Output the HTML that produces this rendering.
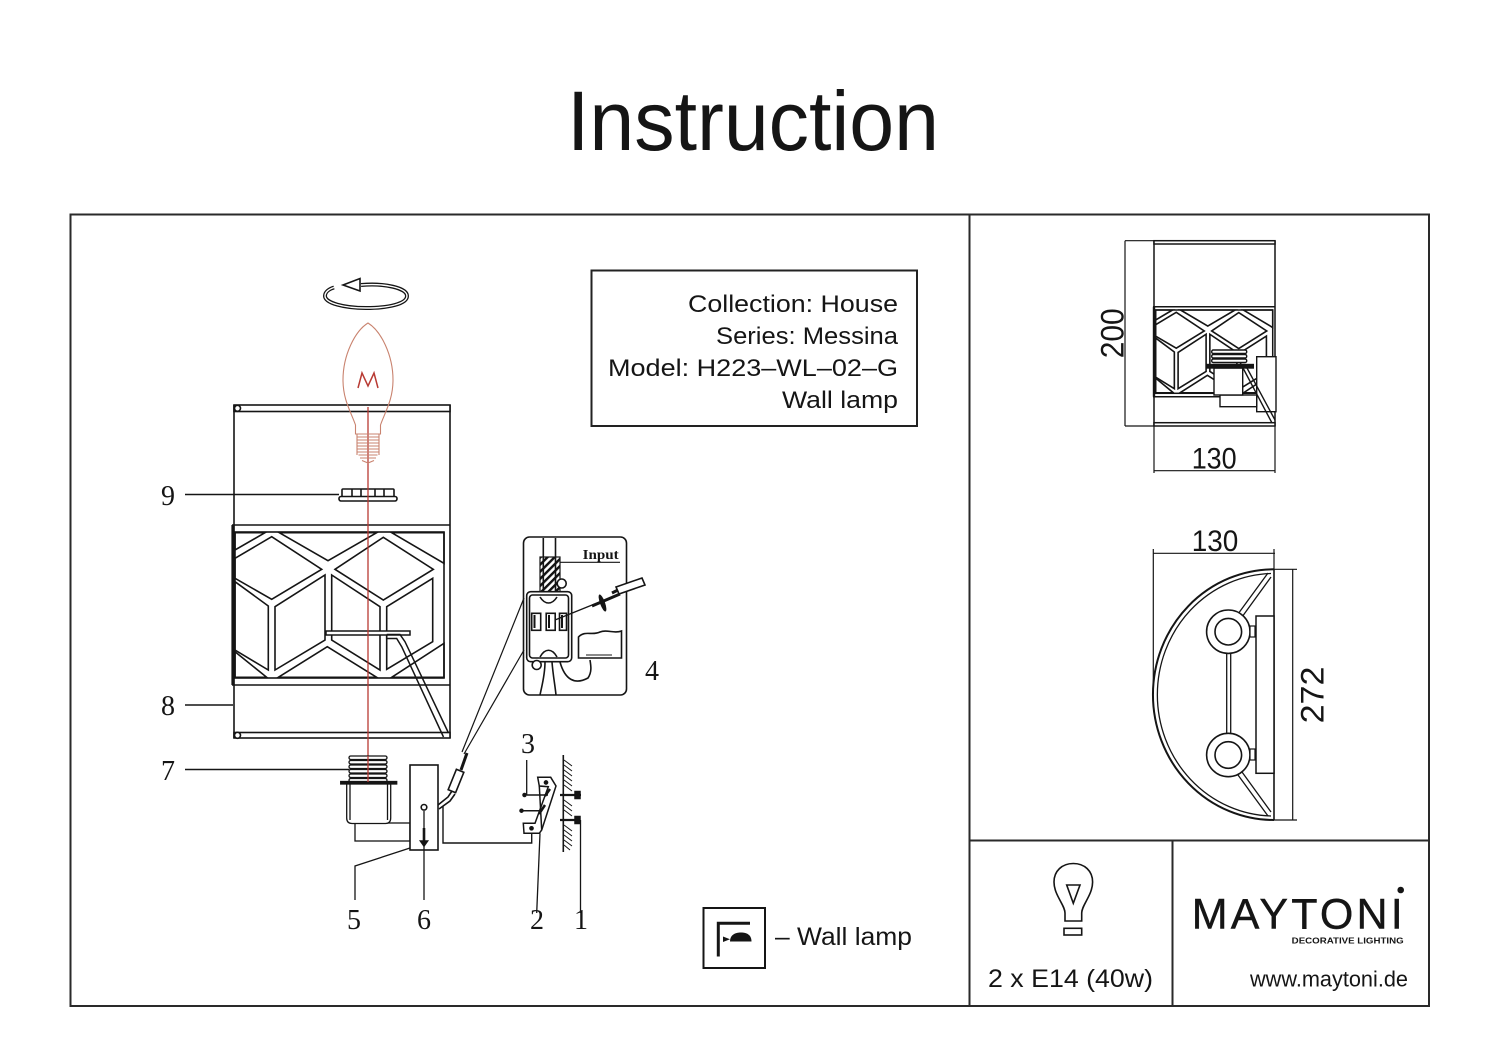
<!DOCTYPE html>
<html>
<head>
<meta charset="utf-8">
<style>
html,body{margin:0;padding:0;background:#fff;}
svg{display:block;}
.s{font-family:"Liberation Sans",Arial,sans-serif;fill:#151515;}
.r{font-family:"Liberation Serif","Times New Roman",serif;fill:#151515;}
</style>
</head>
<body>
<svg width="1500" height="1061" viewBox="0 0 1500 1061" xmlns="http://www.w3.org/2000/svg">
<defs>
  <pattern id="hatch" width="5" height="5" patternUnits="userSpaceOnUse" patternTransform="rotate(45)">
    <rect width="2.4" height="5" fill="#111"/>
  </pattern>
  <g id="hex" fill="none" stroke="#151515" stroke-width="1.6">
    <polygon points="0,0 30,0 0,17.3" vector-effect="non-scaling-stroke"/>
    <polygon points="44.3,0 141.7,0 93,28" vector-effect="non-scaling-stroke"/>
    <polygon points="156.7,0 209,0 209,30.6" vector-effect="non-scaling-stroke"/>
    <polygon points="0,25.6 36.7,4 86.7,36.6 36.7,66.6 0,45.6" vector-effect="non-scaling-stroke"/>
    <polygon points="100,36.6 148.3,4.6 198.3,36.6 148.3,67.3" vector-effect="non-scaling-stroke"/>
    <polygon points="0,49 33.3,73.3 33.3,137.3 0,117.3" vector-effect="non-scaling-stroke"/>
    <polygon points="40,74 90,42.3 90,107.3 40,137.3" vector-effect="non-scaling-stroke"/>
    <polygon points="96.7,42.3 145,74 145,137.3 96.7,107.3" vector-effect="non-scaling-stroke"/>
    <polygon points="151.7,74 197.7,45.6 197.7,109 151.7,136.6" vector-effect="non-scaling-stroke"/>
    <polygon points="43.3,144.6 92.3,114 141.7,144.6" vector-effect="non-scaling-stroke"/>
    <polygon points="156.7,144.6 209,110.6 209,144.6" vector-effect="non-scaling-stroke"/>
    <polygon points="0,119 31.7,144.6 0,144.6" vector-effect="non-scaling-stroke"/>
  </g>
</defs>

<!-- Title -->
<text class="s" x="567" y="150" font-size="84" textLength="372" lengthAdjust="spacingAndGlyphs">Instruction</text>

<!-- Frame -->
<g stroke="#2a2a2a" stroke-width="2" fill="none">
  <rect x="70.5" y="214.5" width="1358.5" height="791.5"/>
  <line x1="969.5" y1="215" x2="969.5" y2="1006"/>
  <line x1="969" y1="840.5" x2="1429" y2="840.5"/>
  <line x1="1172.5" y1="840" x2="1172.5" y2="1006"/>
</g>

<!-- Info box -->
<rect x="591.5" y="270.5" width="325.5" height="155.5" fill="none" stroke="#222" stroke-width="2"/>
<g class="s" font-size="24" text-anchor="end">
  <text x="898" y="312" textLength="210" lengthAdjust="spacingAndGlyphs">Collection: House</text>
  <text x="898" y="344" textLength="182" lengthAdjust="spacingAndGlyphs">Series: Messina</text>
  <text x="898" y="376" textLength="290" lengthAdjust="spacingAndGlyphs">Model: H223–WL–02–G</text>
  <text x="898" y="408" textLength="116" lengthAdjust="spacingAndGlyphs">Wall lamp</text>
</g>

<!-- Rotation arrow -->
<g fill="none">
  <path d="M361,285 C385,283 407,288 407,296 C407,304 388,308 366,308 C344,308 325,303 325,296 C325,292 329,289 334,287.5" stroke="#151515" stroke-width="4"/>
  <path d="M361,285 C385,283 407,288 407,296 C407,304 388,308 366,308 C344,308 325,303 325,296 C325,292 329,289 334,287.5" stroke="#fff" stroke-width="1.4"/>
  <polygon points="343,285 360,278.5 360,291" fill="#fff" stroke="#151515" stroke-width="1.6"/>
</g>

<!-- Lamp shade (front view) -->
<g stroke="#151515" fill="none" stroke-width="1.6">
  <line x1="234" y1="405" x2="234" y2="738"/>
  <line x1="450" y1="405" x2="450" y2="738"/>
  <rect x="234" y="405" width="216" height="6.5" fill="#fff"/>
  <circle cx="237.5" cy="408.3" r="3" fill="#fff"/>
  <line x1="232" y1="525" x2="450" y2="525"/>
  <line x1="232" y1="685" x2="450" y2="685"/>
  <line x1="233" y1="525" x2="233" y2="685" stroke-width="3.2"/>
  <rect x="235" y="532" width="209" height="146"/>
  <rect x="234" y="732.5" width="216" height="5.5" fill="#fff"/>
  <circle cx="237.5" cy="735.3" r="3" fill="#fff"/>
</g>
<use href="#hex" transform="translate(235,532.7)"/>
<!-- rod & arm -->
<g stroke="#151515" fill="#fff" stroke-width="1.5">
  <rect x="326" y="631" width="84" height="4"/>
  <path d="M386.7,634.5 L400,634.5 L405,641.7 L448.5,733" fill="none"/>
  <path d="M386.7,634.5 L386.7,638.5 L396.7,638.5 L401.7,646.7 L443.5,737" fill="none"/>
</g>

<!-- Ring 9 -->
<g stroke="#151515" stroke-width="1.6" fill="#fff">
  <rect x="342" y="489" width="52" height="8" rx="1"/>
  <rect x="339" y="496.5" width="58" height="4.5" rx="2"/>
  <line x1="352" y1="489" x2="352" y2="497"/>
  <line x1="361" y1="489" x2="361" y2="497"/>
  <line x1="375" y1="489" x2="375" y2="497"/>
  <line x1="384" y1="489" x2="384" y2="497"/>
</g>

<!-- Red axis and bulb -->
<line x1="368" y1="407" x2="368" y2="782" stroke="#b83a33" stroke-width="1.3"/>
<g fill="none" stroke="#c9836f" stroke-width="1.1">
  <path d="M368,323 C381,331 393,355 393,380 C393,400 385,412 380.5,425 L380.5,434 L355.5,434 L355.5,425 C351,412 343,400 343,380 C343,355 355,331 368,323 Z"/>
  <path d="M357,437 H379 M357,440 H379 M357,443 H379 M357,446 H379 M357,449 H379 M357.5,452 H378.5 M358.5,455 H377.5 M360,458 H376 M362,460.5 L368,463 L374,460.5"/>
  <line x1="357" y1="434" x2="357" y2="455"/>
  <line x1="379" y1="434" x2="379" y2="455"/>
</g>
<polyline points="358,388 362,373 368,386 374,373 378,388" fill="none" stroke="#b83a33" stroke-width="1.5"/>

<!-- Leader lines left -->
<g stroke="#151515" stroke-width="1.4">
  <line x1="185" y1="494.5" x2="339" y2="494.5"/>
  <line x1="185" y1="705" x2="233" y2="705"/>
  <line x1="185" y1="769.5" x2="349" y2="769.5"/>
</g>
<g class="r" font-size="28" text-anchor="middle">
  <text x="168" y="505">9</text>
  <text x="168" y="715">8</text>
  <text x="168" y="780">7</text>
  <text x="652" y="680">4</text>
  <text x="528" y="753">3</text>
  <text x="354" y="929">5</text>
  <text x="424" y="929">6</text>
  <text x="537" y="929">2</text>
  <text x="581" y="929">1</text>
</g>

<!-- Socket 7 -->
<g stroke="#151515" stroke-width="1.3" fill="#fff">
  <rect x="349" y="756" width="38" height="3.5" rx="1.7"/>
  <rect x="349" y="760.5" width="38" height="3.5" rx="1.7"/>
  <rect x="349" y="765" width="38" height="3.5" rx="1.7"/>
  <rect x="349" y="769.5" width="38" height="3.5" rx="1.7"/>
  <rect x="349" y="774" width="38" height="3.5" rx="1.7"/>
  <rect x="349" y="778.5" width="38" height="3.5" rx="1.7"/>
  <rect x="355" y="823" width="55" height="18"/>
  <path d="M346.7,783 V818 Q346.7,823.5 352,823.5 H385.5 Q390.7,823.5 390.7,818 V783 Z"/>
  <line x1="350" y1="784" x2="350" y2="820" fill="none"/>
  <line x1="387.5" y1="784" x2="387.5" y2="820" fill="none"/>
  <rect x="340.7" y="781.5" width="56" height="2.5" fill="#151515"/>
</g>
<line x1="368" y1="756" x2="368" y2="782" stroke="#b83a33" stroke-width="1.3"/>

<!-- Bracket plate 5/6 -->
<g stroke="#151515" stroke-width="1.6" fill="#fff">
  <rect x="410" y="765" width="28" height="85"/>
  <circle cx="424" cy="807.3" r="2.8"/>
  <line x1="424" y1="811" x2="424" y2="900" fill="none" stroke-width="1.3"/>
  <path d="M420.5,841 L427.5,841 L424,846 Z" fill="#151515"/>
  <rect x="422.7" y="828" width="2.6" height="14" fill="#151515" stroke="none"/>
  <polyline points="410,848 355,866 355,900" fill="none" stroke-width="1.3"/>
  <polyline points="443,806 443,843 531.7,843 531.7,833" fill="none" stroke-width="1.4"/>
  <!-- connector -->
  <path d="M438,805 L448,797 L452,791" fill="none"/>
  <path d="M439,809 L450,801 L455,794" fill="none"/>
  <rect x="452" y="770" width="8" height="22" transform="rotate(22 456 781)"/>
  <line x1="461" y1="770" x2="467" y2="753" stroke-width="3"/>
  <line x1="462" y1="752" x2="524" y2="598" fill="none" stroke-width="1.2"/>
  <line x1="464" y1="754" x2="524" y2="650" fill="none" stroke-width="1.2"/>
</g>

<!-- Mount bracket 2, screws 3, wall, screws 1 -->
<g stroke="#151515" stroke-width="1.5" fill="#fff">
  <path d="M537.7,777.3 L550.7,777.3 L556,786 L541.7,830 L539.3,833.3 L524,833.3 L523.3,823.3 L535,823.3 L548.3,786.7 L539.3,786 Z"/>
  <line x1="539.3" y1="786" x2="541.7" y2="830" fill="none"/>
  <line x1="545" y1="796" x2="550" y2="789" fill="none" stroke-width="2.5"/>
  <line x1="539" y1="814" x2="545" y2="805" fill="none" stroke-width="2.5"/>
  <circle cx="546" cy="782.5" r="1.6" fill="#151515"/>
  <circle cx="531.5" cy="828.3" r="1.6" fill="#151515"/>
  <line x1="526.7" y1="795" x2="548" y2="795" fill="none"/>
  <line x1="522.7" y1="810.7" x2="540" y2="810.7" fill="none"/>
  <circle cx="524.5" cy="795" r="1.5" fill="#151515"/>
  <circle cx="521.5" cy="810.7" r="1.5" fill="#151515"/>
  <line x1="526.7" y1="760" x2="526.7" y2="795" fill="none" stroke-width="1.3"/>
  <line x1="540" y1="833.3" x2="536.7" y2="913" fill="none" stroke-width="1.3"/>
  <line x1="563.3" y1="755" x2="563.3" y2="852" fill="none" stroke-width="1.6"/>
  <line x1="580.5" y1="820" x2="580.5" y2="913" fill="none" stroke-width="1.3"/>
  <line x1="560" y1="795" x2="581" y2="795" fill="none" stroke-width="2.2"/>
  <line x1="560" y1="820" x2="580" y2="820" fill="none" stroke-width="2.2"/>
  <rect x="575" y="791.5" width="5" height="7" fill="#151515"/>
  <rect x="575" y="816.5" width="5" height="7" fill="#151515"/>
</g>
<g stroke="#151515" stroke-width="1">
  <path d="M564,760 l8,6 M564,765 l8,6 M564,770 l8,6 M564,775 l8,6 M564,780 l8,6 M564,785 l8,6 M564,800 l8,6 M564,805 l8,6 M564,810 l8,6 M564,825 l8,6 M564,830 l8,6 M564,835 l8,6 M564,840 l8,6 M564,845 l6,5"/>
</g>

<!-- Wiring box 4 -->
<g stroke="#151515" stroke-width="1.6" fill="none">
  <rect x="523.5" y="537" width="103" height="158" rx="6"/>
  <line x1="543.3" y1="538" x2="543.3" y2="592"/>
  <line x1="555.5" y1="538" x2="555.5" y2="592"/>
  <rect x="540" y="557" width="20" height="35" fill="url(#hatch)" stroke-width="1.2"/>
  <line x1="560" y1="562.3" x2="620" y2="562.3" stroke-width="1.2"/>
  <rect x="526.7" y="591.7" width="45" height="70" rx="4" fill="#fff"/>
  <rect x="529.5" y="595" width="39" height="63" rx="3"/>
  <circle cx="561.7" cy="583.5" r="4.5" fill="#fff"/>
  <circle cx="536.7" cy="665" r="4.5" fill="#fff"/>
  <rect x="531.7" y="613.3" width="9" height="17" fill="#fff"/>
  <rect x="546.2" y="613.3" width="9" height="17" fill="#fff"/>
  <rect x="559.5" y="613.3" width="7" height="17" fill="#fff"/>
  <line x1="534.5" y1="615" x2="534.5" y2="628" stroke-width="2"/>
  <line x1="549" y1="615" x2="549" y2="628" stroke-width="2"/>
  <line x1="562" y1="615" x2="562" y2="628" stroke-width="2"/>
  <path d="M540,597 C545,605 552,605 557,597 M540,657 C545,648 552,648 557,657"/>
  <path d="M545,662 C545,675 542,685 540,695 M552,662 C553,675 555,685 556,695 M560,662 C565,680 575,685 588,678 C592,672 591,666 590,660"/>
  <line x1="555" y1="620" x2="602" y2="601" stroke-width="1.3"/>
  <line x1="592" y1="606" x2="620" y2="594" stroke-width="3"/>
  <path d="M616,587 L642,578 L645,585 L619,594 Z" fill="#fff"/>
  <path d="M618,590 L612,593" stroke-width="3"/>
  <ellipse cx="602.5" cy="603" rx="2.5" ry="9" transform="rotate(-20 602.5 603)" fill="#151515" stroke="none"/>
  <path d="M578.5,637 C585,630 592,636 600,632 C607,629 614,634 621.5,631 L621.5,658 L578.5,658 Z" fill="#fff"/>
  <line x1="586" y1="655" x2="612" y2="655" stroke-width="1"/>
</g>
<text class="r" x="582.7" y="559" font-size="14" font-weight="bold" textLength="36" lengthAdjust="spacingAndGlyphs">Input</text>

<!-- Wall lamp legend -->
<rect x="703.5" y="908" width="61.5" height="60" fill="none" stroke="#151515" stroke-width="2"/>
<path d="M718.3,956.5 V923.3 H750" fill="none" stroke="#151515" stroke-width="3"/>
<path d="M730,941.5 C730,935 735,932.5 741,932.5 C747,932.5 751.5,935 751.5,941.5 Z" fill="#151515"/>
<path d="M723,936.5 L723,942 L730,939.2 Z M730,939.2" fill="#151515"/>
<text class="s" x="775" y="945" font-size="25" textLength="137" lengthAdjust="spacingAndGlyphs">– Wall lamp</text>

<!-- Right panel: side view -->
<g stroke="#151515" stroke-width="1.5" fill="none">
  <line x1="1154" y1="240.7" x2="1154" y2="426"/>
  <line x1="1275" y1="240.7" x2="1275" y2="426"/>
  <rect x="1154" y="240.7" width="121" height="3.3" fill="#fff"/>
  <rect x="1154" y="422.7" width="121" height="3.3" fill="#fff"/>
  <line x1="1153" y1="306.7" x2="1275" y2="306.7"/>
  <line x1="1153" y1="396.7" x2="1275" y2="396.7"/>
  <line x1="1154" y1="306.7" x2="1154" y2="396.7" stroke-width="2.4"/>
  <rect x="1155.7" y="310" width="117" height="83.3"/>
  <!-- dims -->
  <line x1="1125" y1="240.7" x2="1154" y2="240.7" stroke-width="1.2"/>
  <line x1="1125" y1="426" x2="1154" y2="426" stroke-width="1.2"/>
  <line x1="1125" y1="240.7" x2="1125" y2="426" stroke-width="1.2"/>
  <line x1="1154" y1="426" x2="1154" y2="473" stroke-width="1.2"/>
  <line x1="1275" y1="426" x2="1275" y2="473" stroke-width="1.2"/>
  <line x1="1154" y1="470.7" x2="1275" y2="470.7" stroke-width="1.2"/>
</g>
<use href="#hex" transform="translate(1155.7,310) scale(0.56,0.573)"/>
<g stroke="#151515" stroke-width="1.4" fill="#fff">
  <rect x="1256.7" y="356.7" width="19.3" height="55"/>
  <rect x="1220" y="395" width="36.7" height="11.7"/>
  <rect x="1214" y="368" width="28.7" height="27"/>
  <rect x="1211.7" y="350" width="35" height="3.5" rx="1.5"/>
  <rect x="1211.7" y="354.5" width="35" height="3.5" rx="1.5"/>
  <rect x="1211.7" y="359" width="35" height="3.5" rx="1.5"/>
  <rect x="1206.7" y="364.5" width="46.6" height="3.5" fill="#151515"/>
  <path d="M1243,368 L1272,423 M1247,368 L1275,420" fill="none"/>
</g>
<g class="s" font-size="32">
  <text transform="translate(1123.3,333.3) rotate(-90)" text-anchor="middle" textLength="50" lengthAdjust="spacingAndGlyphs">200</text>
</g>
<text class="s" x="1191.7" y="468.3" font-size="30" textLength="45" lengthAdjust="spacingAndGlyphs">130</text>

<!-- Right panel: top view -->
<text class="s" x="1191.7" y="551" font-size="30" textLength="46.6" lengthAdjust="spacingAndGlyphs">130</text>
<g stroke="#151515" fill="none">
  <line x1="1153.3" y1="553.3" x2="1275" y2="553.3" stroke-width="1.2"/>
  <line x1="1153.3" y1="549" x2="1153.3" y2="694" stroke-width="1.2"/>
  <line x1="1274" y1="549" x2="1274" y2="569" stroke-width="1.2"/>
  <line x1="1274" y1="569.3" x2="1297" y2="569.3" stroke-width="1.2"/>
  <line x1="1274" y1="820" x2="1297" y2="820" stroke-width="1.2"/>
  <line x1="1292.7" y1="569.3" x2="1292.7" y2="820" stroke-width="1.2"/>
  <path d="M1274,569.3 A121,125.3 0 0 0 1274,820" stroke-width="2"/>
  <path d="M1271,573.5 A117,121.3 0 0 0 1271,816" stroke-width="1.3"/>
  <line x1="1274" y1="569.3" x2="1274" y2="820" stroke-width="1.6"/>
  <rect x="1256" y="616" width="18" height="157.3" stroke-width="1.5" fill="#fff"/>
  <path d="M1238,614 L1268,573 M1242,617 L1271,577" stroke-width="1.3"/>
  <path d="M1238,775 L1268,816 M1242,772 L1271,812" stroke-width="1.3"/>
  <rect x="1226.7" y="651.7" width="4" height="86.6" stroke-width="1.3" fill="#fff"/>
  <circle cx="1228.3" cy="631.7" r="21.7" stroke-width="1.6" fill="#fff"/>
  <circle cx="1228.3" cy="631.7" r="13.3" stroke-width="1.6"/>
  <circle cx="1228.3" cy="755" r="21.7" stroke-width="1.6" fill="#fff"/>
  <circle cx="1228.3" cy="755" r="13.3" stroke-width="1.6"/>
  <rect x="1250" y="626" width="5" height="11" stroke-width="1.2" fill="#fff"/>
  <rect x="1250" y="749" width="5" height="11" stroke-width="1.2" fill="#fff"/>
</g>
<text class="s" transform="translate(1323.3,695) rotate(-90)" font-size="32" text-anchor="middle" textLength="56.7" lengthAdjust="spacingAndGlyphs">272</text>

<!-- Bottom right: bulb spec -->
<g stroke="#151515" stroke-width="1.6" fill="none">
  <path d="M1065,921 L1065,913 C1065,905 1054,895 1054,882 C1054,871 1062,863.5 1073.3,863.5 C1084.6,863.5 1092.6,871 1092.6,882 C1092.6,895 1081.7,905 1081.7,913 L1081.7,921 Z"/>
  <path d="M1066.7,885 L1080,885 L1073.3,903.3 Z"/>
  <rect x="1064" y="928.3" width="17.7" height="6.7"/>
</g>
<text class="s" x="988" y="987" font-size="25" textLength="165" lengthAdjust="spacingAndGlyphs">2 x E14 (40w)</text>

<!-- Logo -->
<text class="s" x="1191.7" y="928.3" font-size="43" stroke="#151515" stroke-width="0.4" textLength="211" lengthAdjust="spacing">MAYTONI</text>
<circle cx="1400.7" cy="890" r="3.3" fill="#151515"/>
<text class="s" x="1291.7" y="943.3" font-size="8.5" font-weight="bold" textLength="112" lengthAdjust="spacingAndGlyphs">DECORATIVE LIGHTING</text>
<text class="s" x="1250" y="986.5" font-size="22" textLength="158" lengthAdjust="spacingAndGlyphs">www.maytoni.de</text>
</svg>
</body>
</html>
